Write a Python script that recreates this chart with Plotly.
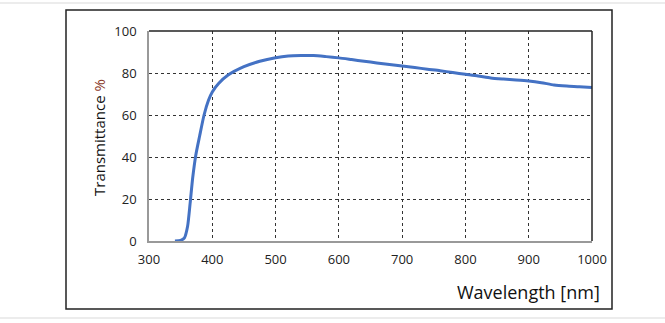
import plotly.graph_objects as go

wavelength = [341, 350, 356, 361, 365, 369, 374, 380, 387, 394, 400, 410, 425, 450, 475, 500, 520, 540, 560, 580, 600, 620, 640, 660, 680, 700, 720, 740, 760, 780, 800, 820, 840, 860, 880, 900, 920, 940, 960, 980, 1000]
transmittance = [0, 0.3, 1.5, 7, 18, 30, 41, 50, 60, 67, 71, 75, 79, 83, 85.6, 87.3, 88.1, 88.3, 88.3, 87.8, 87.2, 86.4, 85.6, 84.8, 84.1, 83.3, 82.6, 81.8, 81.1, 80.2, 79.4, 78.6, 77.6, 77.1, 76.7, 76.2, 75.4, 74.3, 73.8, 73.5, 73.1]

x_ticks = [300, 400, 500, 600, 700, 800, 900, 1000]
y_ticks = [0, 20, 40, 60, 80, 100]

fig = go.Figure()
fig.add_trace(go.Scatter(
    x=wavelength, y=transmittance, mode="lines",
    line=dict(color="#4472C4", width=3, shape="spline", smoothing=0.6),
    hoverinfo="skip", showlegend=False,
))

tick_font = dict(family="Open Sans, DejaVu Sans, sans-serif", size=13, color="#222")
fig.update_layout(
    width=665, height=323,
    margin=dict(l=149, r=73, t=31, b=82),
    paper_bgcolor="white", plot_bgcolor="white",
    font=tick_font,
    xaxis=dict(range=[300, 1000], tickvals=x_ticks, ticks="", showgrid=True,
               gridcolor="#333", griddash="dot", gridwidth=1,
               showline=True, linecolor="#999", linewidth=1.5, zeroline=False,
               tickfont=tick_font, ticklabelstandoff=6),
    yaxis=dict(range=[0, 100], tickvals=y_ticks, ticks="", showgrid=True,
               gridcolor="#333", griddash="dot", gridwidth=1,
               showline=True, linecolor="#999", linewidth=1.5, zeroline=False,
               tickfont=tick_font, ticklabelstandoff=8),
)

# plot frame top/right (black), outer box, page separators
fig.add_shape(type="line", xref="paper", yref="paper", x0=0, x1=1, y0=1, y1=1,
              line=dict(color="#222", width=1.5), layer="above")
fig.add_shape(type="line", xref="paper", yref="paper", x0=1, x1=1, y0=0, y1=1,
              line=dict(color="#222", width=1.5), layer="above")
fig.add_shape(type="rect", xref="paper", yref="paper",
              x0=(66 - 149) / 443, x1=(612 - 149) / 443,
              y0=(241 - 309) / 210, y1=(241 - 10) / 210,
              line=dict(color="#222", width=1.5))
for py in (3, 318):
    fig.add_shape(type="line", xref="paper", yref="paper",
                  x0=-149 / 443, x1=(665 - 149) / 443,
                  y0=(241 - py) / 210, y1=(241 - py) / 210,
                  line=dict(color="#e6e6e6", width=1.5))

fig.add_annotation(xref="paper", yref="paper", x=(602 - 149) / 443, y=(241 - 292) / 210,
                   text="Wavelength [nm]", showarrow=False, xanchor="right", yanchor="middle",
                   font=dict(family="Open Sans, DejaVu Sans, sans-serif", size=18, color="#111"))
fig.add_annotation(xref="paper", yref="paper", x=(99 - 149) / 443, y=(241 - 138) / 210,
                   text="Transmittance <span style='color:#8B3A2A'>%</span>", showarrow=False,
                   textangle=-90, xanchor="center", yanchor="middle",
                   font=dict(family="Open Sans, DejaVu Sans, sans-serif", size=15, color="#111"))

fig.write_html("out.html", config={"displayModeBar": False},
               post_script="document.body.style.margin='0';document.body.style.overflow='hidden';")
